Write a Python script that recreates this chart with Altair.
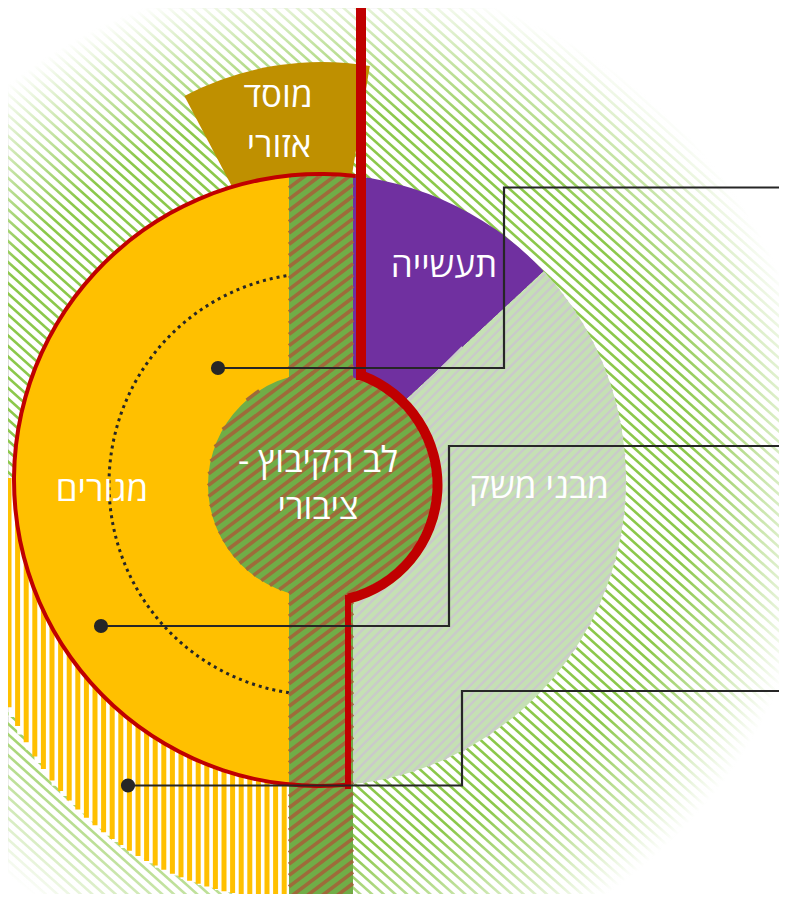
import numpy as np
import pandas as pd
import altair as alt
from math import radians, sin, cos, sqrt

# ---------------- data (reference pixel coordinates) ----------------
# filled sectors: name, colour, centre x, centre y, outer r, inner r, start deg, end deg
sector_names = ["gold", "yellow", "purple", "lightgreen", "redouter", "redinner"]
sector_colors = ["#bf9000", "#ffc000", "#7030a0", "#c5e0b4", "#c00000", "#c00000"]
sector_cx = [322, 320, 320, 320, 320, 320.5]
sector_cy = [358, 480, 480, 480, 480, 485]
sector_r = [296, 306, 306, 306, 308, 122]
sector_r2 = [0, 0, 0, 0, 304, 112]
sector_t1 = [332.3, 180, 0, 47, 174.4, 20.5]
sector_t2 = [369.3, 360, 47, 180, 366.7, 166.2]

# labels
label_text = ["מוסד", "אזורי", "תעשייה", "לב הקיבוץ -\u200f", "ציבורי", "מגורים", "מבני משק"]
label_x = [278, 279, 444, 318, 318, 102, 539]
label_y = [107, 157, 277, 472, 519, 501, 498]

# callouts: dot, elbow points
call_id = [1, 1, 1, 1, 2, 2, 2, 2, 3, 3, 3, 3]
call_x = [218, 504, 504, 800, 101, 449, 449, 800, 128, 462, 462, 800]
call_y = [368, 368, 187.5, 187.5, 626, 626, 446, 446, 785.5, 785.5, 691, 691]
dot_x = [218, 101, 128]
dot_y = [368, 626, 785.5]

# red straight parts
red_x = [361, 348]
red_y = [5, 595]
red_y2 = [380, 789]
red_w = [10, 6]

# ---------------- helpers ----------------
# page has an 8px margin on every side: plot area = reference pixels 8..779 x 8..894
X0, X1, Y0, Y1 = 8, 779, 8, 894
W, H = X1 - X0, Y1 - Y0
xs = alt.Scale(domain=[X0, X1], nice=False, zero=False)
ys = alt.Scale(domain=[Y0, Y1], reverse=True, nice=False, zero=False)


def ex(f):
    return alt.X(f, type="quantitative", scale=xs, axis=None)


def ey(f):
    return alt.Y(f, type="quantitative", scale=ys, axis=None)


def clip(p0, d, circles, planes, t0, t1):
    for cx, cy, r in circles:
        wx, wy = p0[0] - cx, p0[1] - cy
        b = d[0] * wx + d[1] * wy
        c = wx * wx + wy * wy - r * r
        disc = b * b - c
        if disc <= 0:
            return None
        sq = sqrt(disc)
        t0 = max(t0, -b - sq)
        t1 = min(t1, -b + sq)
    for ax, ay, h in planes:
        ad = ax * d[0] + ay * d[1]
        ap = ax * p0[0] + ay * p0[1]
        if abs(ad) < 1e-12:
            if ap > h:
                return None
        elif ad > 0:
            t1 = min(t1, (h - ap) / ad)
        else:
            t0 = max(t0, (h - ap) / ad)
    if t1 - t0 < 0.5:
        return None
    return (p0[0] + t0 * d[0], p0[1] + t0 * d[1], p0[0] + t1 * d[0], p0[1] + t1 * d[1])


def hatch(angle, pitch, origin, circles=(), planes=(), kmin=-120, kmax=120):
    a = radians(angle)
    d = (cos(a), -sin(a))
    n = (sin(a), cos(a))
    rows = []
    for k in range(kmin, kmax + 1):
        p0 = (origin[0] + k * pitch * n[0], origin[1] + k * pitch * n[1])
        seg = clip(p0, d, circles, planes, -2000, 2000)
        if seg:
            rows.append(dict(x=seg[0], y=seg[1], x2=seg[2], y2=seg[3]))
    return pd.DataFrame(rows)


def rules(df, color, width):
    return alt.Chart(df).mark_rule(color=color, strokeWidth=width).encode(
        x=ex("x"), y=ey("y"), x2="x2", y2="y2")


def sector(i):
    df = pd.DataFrame(dict(x=[sector_cx[i]], y=[sector_cy[i]], r=[sector_r[i]], r2=[sector_r2[i]],
                           t=[radians(sector_t1[i])], t2=[radians(sector_t2[i])]))
    return alt.Chart(df).mark_arc(color=sector_colors[i]).encode(
        x=ex("x"), y=ey("y"),
        theta=alt.Theta("t:Q", scale=None), theta2="t2",
        radius=alt.Radius("r:Q", scale=None), radius2="r2")


layers = []

# background green hatch
canvas = [(-1, 0, 0), (1, 0, 790), (0, -1, 0), (0, 1, 905)]
bg = hatch(-42, 7.8, (320, 480), planes=canvas, kmin=-110, kmax=110)
layers.append(rules(bg, "#8cc84b", 2.6))

# radial fade to white
fade = pd.DataFrame(dict(x=[320 - 700], x2=[320 + 700], y=[480 - 700], y2=[480 + 700]))
layers.append(alt.Chart(fade).mark_rect(fill={
    "gradient": "radial", "x1": 0.5, "y1": 0.5, "r1": 0, "x2": 0.5, "y2": 0.5, "r2": 0.5,
    "stops": [{"offset": 0, "color": "rgba(255,255,255,0)"},
              {"offset": 0.53, "color": "rgba(255,255,255,0)"},
              {"offset": 0.72, "color": "rgba(255,255,255,1)"},
              {"offset": 1, "color": "rgba(255,255,255,1)"}]}).encode(
    x=ex("x"), x2="x2", y=ey("y"), y2="y2"))

# lower-left white / yellow vertical stripes
c2 = [(298, 587, 313)]
pl2 = [(0, -1, -478), (1, 0, 289)]
white_base = hatch(90, 8.6, (288.5, 600), circles=c2, planes=pl2, kmin=-40, kmax=0)
yel = hatch(90, 8.6, (284.2, 600), circles=c2, planes=pl2, kmin=-40, kmax=0)
layers.append(rules(white_base, "#ffffff", 9.4))
layers.append(rules(yel, "#ffc000", 5))

# gold sector, main sectors
layers.append(sector(0))
layers.append(sector(1))
layers.append(sector(2))
layers.append(sector(3))

# gray hatch in light green sector
g47 = radians(47)
gray = hatch(45, 6.8, (320, 480), circles=[(320, 480, 306)],
             planes=[(-cos(g47), -sin(g47), -(cos(g47) * 320 + sin(g47) * 480)), (-1, 0, -320)],
             kmin=-70, kmax=70)
layers.append(rules(gray, "#cacaca", 2.4))

# dotted arc in yellow
th = np.radians(np.linspace(188.45, 351.55, 140))
dots = pd.DataFrame(dict(x=320 + 211 * np.sin(th), y=484 - 211 * np.cos(th), k=np.arange(len(th))))
layers.append(alt.Chart(dots).mark_line(color="#262626", strokeWidth=3, strokeDash=[3, 4]).encode(
    x=ex("x"), y=ey("y"), order="k:Q"))

# green strip + inner circle with brown hatch
strip = pd.DataFrame(dict(x=[289], x2=[353], y=[175], y2=[905]))
layers.append(alt.Chart(strip).mark_rect(color="#70ad47").encode(x=ex("x"), x2="x2", y=ey("y"), y2="y2"))
circ = pd.DataFrame(dict(x=[320.5], y=[485], r=[112.5], r2=[0], t=[0.0], t2=[2 * np.pi]))
layers.append(alt.Chart(circ).mark_arc(color="#70ad47").encode(
    x=ex("x"), y=ey("y"), theta=alt.Theta("t:Q", scale=None), theta2="t2",
    radius=alt.Radius("r:Q", scale=None), radius2="r2"))
br1 = hatch(37, 9, (0, 0), planes=[(-1, 0, -289), (1, 0, 353), (0, -1, -175), (0, 1, 905)], kmin=-20, kmax=160)
br2 = hatch(37, 9, (0, 0), circles=[(320.5, 485, 112.5)], kmin=-20, kmax=160)
layers.append(rules(br1, "#9e6b3a", 3.6))
layers.append(rules(br2, "#9e6b3a", 3.6))

# red outline parts
layers.append(sector(4))
layers.append(sector(5))
red = pd.DataFrame(dict(x=red_x, y=red_y, y2=red_y2, w=red_w))
layers.append(alt.Chart(red).mark_rule(color="#c00000").encode(
    x=ex("x"), y=ey("y"), y2="y2", strokeWidth=alt.StrokeWidth("w:Q", scale=None)))

# callouts
calls = pd.DataFrame(dict(id=call_id, x=call_x, y=call_y, k=list(range(len(call_x)))))
layers.append(alt.Chart(calls).mark_line(color="#262626", strokeWidth=2.2).encode(
    x=ex("x"), y=ey("y"), detail="id:N", order="k:Q"))
dd = pd.DataFrame(dict(x=dot_x, y=dot_y))
layers.append(alt.Chart(dd).mark_circle(color="#262626", opacity=1, size=200).encode(x=ex("x"), y=ey("y")))

# labels
lab = pd.DataFrame(dict(t=label_text, x=label_x, y=label_y))
layers.append(alt.Chart(lab).mark_text(color="white", font="Open Sans", fontSize=35, align="center",
                                        baseline="alphabetic").encode(x=ex("x"), y=ey("y"), text="t:N"))

chart = alt.layer(*layers).properties(
    width=W, height=H, padding=0, autosize=alt.AutoSizeParams(type="none")
).configure_view(stroke=None).configure(background="white")

chart.save("out.html", embed_options={"renderer": "svg", "actions": False})
